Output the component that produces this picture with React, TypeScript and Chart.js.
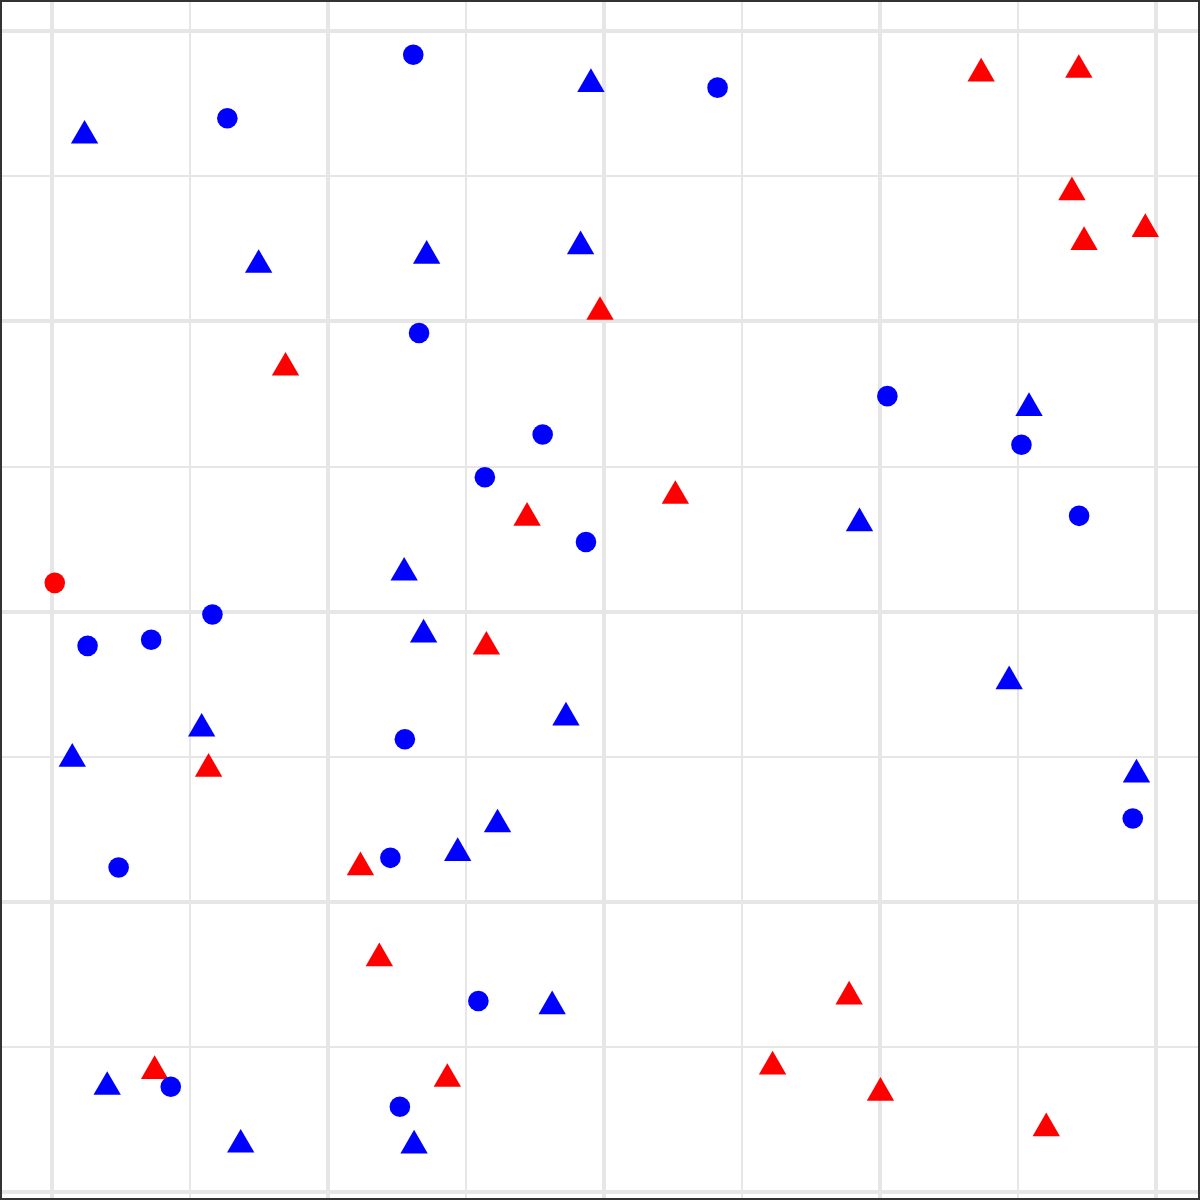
import React, { useEffect, useRef } from "react";
import { Chart, registerables } from "chart.js";

Chart.register(...registerables);

// x / y values (grid: x 0..8, y 0..8, major lines on even values)
const blueCircleX = [2.619, 1.271, 4.825, 2.661, 6.056, 3.557, 7.028, 3.138, 7.446, 3.871, 1.163, 0.719, 0.258, 2.558, 7.835, 2.453, 0.483, 3.091, 0.861, 2.522];
const blueCircleY = [7.838, 7.4, 7.611, 5.92, 5.485, 5.221, 5.15, 4.926, 4.66, 4.48, 3.98, 3.806, 3.764, 3.12, 2.574, 2.303, 2.236, 1.316, 0.725, 0.588];

const blueTriangleX = [0.236, 3.907, 1.498, 2.716, 3.832, 7.083, 5.854, 2.553, 2.694, 6.939, 3.726, 1.085, 0.147, 7.862, 3.23, 2.941, 3.626, 0.4, 1.368, 2.625];
const blueTriangleY = [7.28, 7.636, 6.389, 6.452, 6.518, 5.403, 4.609, 4.268, 3.841, 3.52, 3.269, 3.193, 2.985, 2.877, 2.533, 2.336, 1.28, 0.724, 0.326, 0.32];

const redCircleX = [0.02];
const redCircleY = [4.198];

const redTriangleX = [6.736, 7.444, 7.394, 7.926, 7.482, 3.973, 1.693, 4.519, 3.444, 3.149, 1.135, 2.236, 2.373, 5.779, 0.744, 2.866, 5.224, 6.006, 7.208];
const redTriangleY = [7.708, 7.733, 6.89, 6.637, 6.547, 6.065, 5.681, 4.797, 4.646, 3.758, 2.917, 2.238, 1.611, 1.347, 0.833, 0.779, 0.864, 0.684, 0.439];

const gridTicks = [0, 1, 2, 3, 4, 5, 6, 7, 8];

const X_MIN = -0.3625;
const X_MAX = 8.308;
const Y_MIN = -0.0414;
const Y_MAX = 8.2013;

const toPoints = (xs: number[], ys: number[]) => xs.map((x, i) => ({ x, y: ys[i] }));

export default function App() {
  const canvasRef = useRef<HTMLCanvasElement | null>(null);

  useEffect(() => {
    document.body.style.margin = "0";
    const canvas = canvasRef.current;
    if (!canvas) return;

    const gridOpts = {
      color: "#e6e6e6",
      lineWidth: (ctx: any) => (ctx.tick && ctx.tick.value % 2 === 0 ? 4 : 2),
      drawTicks: false,
    };

    const chart = new Chart(canvas, {
      type: "scatter",
      data: {
        datasets: [
          {
            label: "blue circle",
            data: toPoints(blueCircleX, blueCircleY),
            pointStyle: "circle",
            pointRadius: 10.3,
            pointHoverRadius: 10.3,
            backgroundColor: "#0000ff",
            borderWidth: 0,
            clip: false as any,
          },
          {
            label: "blue triangle",
            data: toPoints(blueTriangleX, blueTriangleY),
            pointStyle: "triangle",
            pointRadius: 15.8,
            pointHoverRadius: 15.8,
            backgroundColor: "#0000ff",
            borderWidth: 0,
            clip: false as any,
          },
          {
            label: "red circle",
            data: toPoints(redCircleX, redCircleY),
            pointStyle: "circle",
            pointRadius: 10.3,
            pointHoverRadius: 10.3,
            backgroundColor: "#ff0000",
            borderWidth: 0,
            clip: false as any,
          },
          {
            label: "red triangle",
            data: toPoints(redTriangleX, redTriangleY),
            pointStyle: "triangle",
            pointRadius: 15.8,
            pointHoverRadius: 15.8,
            backgroundColor: "#ff0000",
            borderWidth: 0,
            clip: false as any,
          },
        ],
      },
      options: {
        animation: false,
        responsive: false,
        events: [],
        layout: { padding: 0, autoPadding: false },
        plugins: {
          legend: { display: false },
          tooltip: { enabled: false },
        },
        scales: {
          x: {
            type: "linear",
            min: X_MIN,
            max: X_MAX,
            afterBuildTicks: (scale: any) => {
              scale.ticks = gridTicks.map((v) => ({ value: v }));
            },
            ticks: { display: false },
            border: { display: false },
            grid: gridOpts as any,
          },
          y: {
            type: "linear",
            min: Y_MIN,
            max: Y_MAX,
            afterBuildTicks: (scale: any) => {
              scale.ticks = gridTicks.map((v) => ({ value: v }));
            },
            ticks: { display: false },
            border: { display: false },
            grid: gridOpts as any,
          },
        },
      },
    });

    return () => chart.destroy();
  }, []);

  return (
    <div
      style={{
        width: 1200,
        height: 1200,
        boxSizing: "border-box",
        border: "2px solid #333333",
        background: "#ffffff",
        overflow: "hidden",
      }}
    >
      <canvas ref={canvasRef} width={1196} height={1196} style={{ display: "block", width: 1196, height: 1196 }} />
    </div>
  );
}
